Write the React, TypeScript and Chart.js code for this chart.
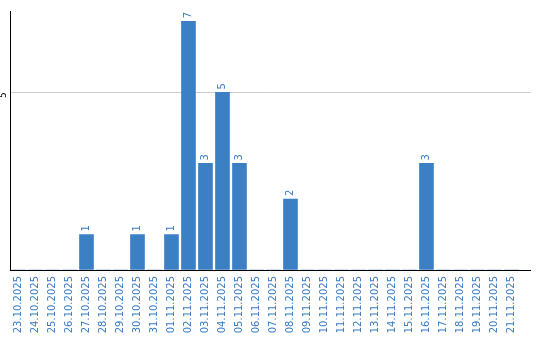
import React, { useEffect, useRef } from "react";
import { Chart, registerables } from "chart.js";

Chart.register(...registerables);

const categories = [
  "23.10.2025", "24.10.2025", "25.10.2025", "26.10.2025", "27.10.2025",
  "28.10.2025", "29.10.2025", "30.10.2025", "31.10.2025", "01.11.2025",
  "02.11.2025", "03.11.2025", "04.11.2025", "05.11.2025", "06.11.2025",
  "07.11.2025", "08.11.2025", "09.11.2025", "10.11.2025", "11.11.2025",
  "12.11.2025", "13.11.2025", "14.11.2025", "15.11.2025", "16.11.2025",
  "17.11.2025", "18.11.2025", "19.11.2025", "20.11.2025", "21.11.2025",
];
const values = [
  0, 0, 0, 0, 1, 0, 0, 1, 0, 1,
  7, 3, 5, 3, 0, 0, 2, 0, 0, 0,
  0, 0, 0, 0, 3, 0, 0, 0, 0, 0,
];
const yTicks = [0, 5];
const yMax = 7.28;

const BAR = "#3b7fc4";
const LABEL = "#3a7bc2";
const FONT = '"DejaVu Sans", Verdana, sans-serif';

const valueLabels = {
  id: "valueLabels",
  afterDatasetsDraw(chart: any) {
    const ctx = chart.ctx;
    const meta = chart.getDatasetMeta(0);
    ctx.save();
    ctx.font = `10px ${FONT}`;
    ctx.fillStyle = LABEL;
    ctx.textAlign = "left";
    ctx.textBaseline = "middle";
    meta.data.forEach((bar: any, i: number) => {
      const v = values[i];
      if (!v) return;
      ctx.save();
      ctx.translate(bar.x, bar.y - 3);
      ctx.rotate(-Math.PI / 2);
      ctx.fillText(String(v), 0, 0);
      ctx.restore();
    });
    ctx.restore();
  },
};

export default function App() {
  const ref = useRef<HTMLCanvasElement | null>(null);
  useEffect(() => {
    if (!ref.current) return;
    const chart = new Chart(ref.current, {
      type: "bar",
      data: {
        datasets: [
          {
            data: values.map((v, i) => ({ x: i, y: v })),
            backgroundColor: BAR,
            borderWidth: 0,
            barThickness: 14,
          },
        ],
      },
      options: {
        animation: false,
        responsive: false,
        layout: { padding: { top: 10, right: 9.5, left: 0, bottom: 0 } },
        plugins: { legend: { display: false }, tooltip: { enabled: false } },
        scales: {
          x: {
            type: "linear",
            min: -0.5,
            max: 30.12,
            offset: false,
            grid: { display: false, drawTicks: false, offset: false },
            border: { display: true, color: "#000", width: 1 },
            afterBuildTicks: (scale: any) => {
              scale.ticks = categories.map((_, i) => ({ value: i }));
            },
            afterFit: (scale: any) => {
              scale.height = 70;
            },
            ticks: {
              autoSkip: false,
              minRotation: 90,
              maxRotation: 90,
              padding: 6,
              color: LABEL,
              font: { family: FONT, size: 10 },
              callback: (value: any) => categories[value] ?? "",
            },
          },
          y: {
            min: 0,
            max: yMax,
            grid: { color: "#cccccc", drawTicks: false },
            border: { display: true, color: "#000", width: 1 },
            afterBuildTicks: (scale: any) => {
              scale.ticks = yTicks.map((v) => ({ value: v }));
            },
            afterFit: (scale: any) => {
              scale.width = 10;
            },
            ticks: {
              minRotation: 90,
              maxRotation: 90,
              padding: 6,
              color: "#000",
              font: { family: FONT, size: 9 },
              callback: (value: any) => (value === 0 ? "" : String(value)),
            },
          },
        },
      },
      plugins: [valueLabels],
    } as any);
    return () => chart.destroy();
  }, []);
  return (
    <div style={{ position: "absolute", left: 0, top: 0, width: 540, height: 340, background: "#fff" }}>
      <canvas ref={ref} width={540} height={340} />
    </div>
  );
}
